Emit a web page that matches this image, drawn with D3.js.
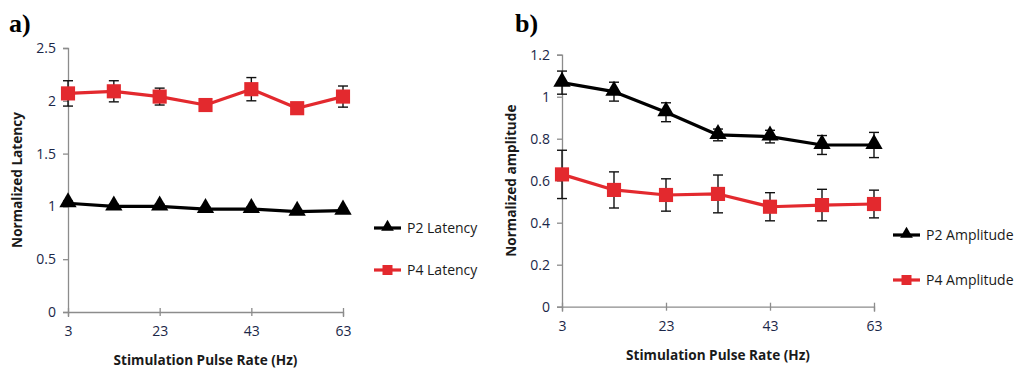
<!DOCTYPE html>
<html>
<head>
<meta charset="utf-8">
<script src="https://cdn.jsdelivr.net/npm/d3@7"></script>
<style>
  html, body { margin: 0; padding: 0; background: #fff; }
  svg { display: block; }
  .tick text { font-family: "Open Sans", "Liberation Sans", sans-serif; font-size: 14px; fill: #1b2748; }
  .axis-title { font-family: "Open Sans", "Liberation Sans", sans-serif; font-size: 13.6px; font-weight: bold; fill: #1a1a1a; }
  .legend text { font-family: "Open Sans", "Liberation Sans", sans-serif; font-size: 14px; fill: #1a1a1a; }
  .panel-label { font-family: "Liberation Serif", "DejaVu Serif", serif; font-size: 26px; font-weight: bold; fill: #000; }
</style>
</head>
<body>
<svg id="chart" width="1036" height="371"></svg>
<script>
// Stimulation pulse rates (Hz)
const rates = [3, 13, 23, 33, 43, 53, 63];
const xTicks = [3, 23, 43, 63];

// Panel a: normalized latency
const p2Latency    = [1.03, 1.00, 1.00, 0.975, 0.975, 0.95, 0.96];
const p2LatencyErr = [0.02, 0.02, 0.02, 0.02, 0.02, 0.02, 0.02];
const p4Latency    = [2.07, 2.09, 2.04, 1.96, 2.11, 1.93, 2.04];
const p4LatencyErr = [0.12, 0.10, 0.08, 0.03, 0.11, 0.03, 0.10];
const latencyTicks = [0, 0.5, 1, 1.5, 2, 2.5];

// Panel b: normalized amplitude
const p2Amplitude    = [1.067, 1.024, 0.926, 0.818, 0.81, 0.77, 0.77];
const p2AmplitudeErr = [0.055, 0.045, 0.045, 0.028, 0.03, 0.045, 0.06];
const p4Amplitude    = [0.63, 0.556, 0.532, 0.537, 0.476, 0.484, 0.489];
const p4AmplitudeErr = [0.115, 0.086, 0.077, 0.09, 0.067, 0.075, 0.066];
const amplitudeTicks = [0, 0.2, 0.4, 0.6, 0.8, 1, 1.2];

const svg = d3.select("#chart");
const RED = "#e3292e";
const BLACK = "#000";

function drawPanel(cfg) {
  const g = svg.append("g");
  const x = d3.scaleLinear().domain([3, 63]).range([cfg.left, cfg.right]);
  const y = d3.scaleLinear().domain(cfg.yDomain).range([cfg.bottom, cfg.top]);

  // axes
  const xAxis = d3.axisBottom(x).tickValues(xTicks).tickFormat(d3.format("d")).tickSize(5).tickPadding(9);
  const yAxis = d3.axisLeft(y).tickValues(cfg.yTicks).tickFormat(d => d3.format("")(d)).tickSize(5).tickPadding(7);

  const gx = g.append("g").attr("transform", `translate(0,${cfg.bottom})`).call(xAxis);
  const gy = g.append("g").attr("transform", `translate(${cfg.left},0)`).call(yAxis);
  [gx, gy].forEach(a => {
    a.select(".domain").attr("stroke", "#8c8c8c").attr("stroke-width", 1.3);
    a.selectAll(".tick line").attr("stroke", "#8c8c8c").attr("stroke-width", 1.3);
  });
  // x ticks cross the axis line
  gx.selectAll(".tick line").attr("y1", -4).attr("y2", 4);

  // axis titles
  g.append("text").attr("class", "axis-title")
    .attr("x", (cfg.left + cfg.right) / 2).attr("y", cfg.bottom + 53)
    .attr("text-anchor", "middle").text("Stimulation Pulse Rate (Hz)");
  g.append("text").attr("class", "axis-title")
    .attr("transform", `translate(${cfg.yTitleX},${(cfg.top + cfg.bottom) / 2}) rotate(-90)`)
    .attr("text-anchor", "middle").text(cfg.yTitle);

  // series
  cfg.series.forEach(s => {
    const pts = rates.map((r, i) => ({ r, v: s.values[i], e: s.errors[i] }));
    const line = d3.line().x(d => x(d.r)).y(d => y(d.v));
    g.append("path").datum(pts)
      .attr("fill", "none").attr("stroke", s.color).attr("stroke-width", 3.2)
      .attr("stroke-linejoin", "round").attr("d", line);

    // error bars
    const eb = g.append("g");
    pts.forEach(d => {
      const cx = x(d.r), yt = y(d.v + d.e), yb = y(d.v - d.e);
      eb.append("line").attr("x1", cx).attr("x2", cx).attr("y1", yt).attr("y2", yb)
        .attr("stroke", "#111").attr("stroke-width", 1.4);
      [yt, yb].forEach(yy => eb.append("line")
        .attr("x1", cx - 5).attr("x2", cx + 5).attr("y1", yy).attr("y2", yy)
        .attr("stroke", "#111").attr("stroke-width", 1.4));
    });

    // markers
    const sym = d3.symbol().type(s.shape === "square" ? d3.symbolSquare : d3.symbolTriangle)
      .size(s.shape === "square" ? 200 : 130);
    g.append("g").selectAll("path").data(pts).join("path")
      .attr("transform", d => `translate(${x(d.r)},${y(d.v) + (s.shape === "square" ? 0 : -1)})`)
      .attr("d", sym).attr("fill", s.color);
  });

  // legend
  const lg = g.append("g").attr("class", "legend");
  cfg.series.forEach((s, i) => {
    const ly = cfg.legendY[i];
    lg.append("line").attr("x1", cfg.legendX).attr("x2", cfg.legendX + 27)
      .attr("y1", ly).attr("y2", ly).attr("stroke", s.color).attr("stroke-width", 3.2);
    const sym = d3.symbol().type(s.shape === "square" ? d3.symbolSquare : d3.symbolTriangle)
      .size(s.shape === "square" ? 100 : 70);
    lg.append("path").attr("transform", `translate(${cfg.legendX + 13.5},${ly - (s.shape === "square" ? 0 : 1)})`)
      .attr("d", sym).attr("fill", s.color);
    lg.append("text").attr("x", cfg.legendX + 33).attr("y", ly).attr("dy", "0.35em").text(s.name);
  });

  // panel label
  g.append("text").attr("class", "panel-label")
    .attr("x", cfg.labelX).attr("y", 32).text(cfg.label);
}

drawPanel({
  label: "a)", labelX: 9,
  left: 68, right: 343, top: 48, bottom: 312,
  yDomain: [0, 2.5], yTicks: latencyTicks,
  yTitle: "Normalized Latency", yTitleX: 22,
  legendX: 374, legendY: [228, 270],
  series: [
    { name: "P2 Latency", values: p2Latency, errors: p2LatencyErr, color: BLACK, shape: "triangle" },
    { name: "P4 Latency", values: p4Latency, errors: p4LatencyErr, color: RED, shape: "square" }
  ]
});

drawPanel({
  label: "b)", labelX: 515,
  left: 562, right: 874, top: 54.7, bottom: 306.7,
  yDomain: [0, 1.2], yTicks: amplitudeTicks,
  yTitle: "Normalized amplitude", yTitleX: 516,
  legendX: 893, legendY: [235, 280],
  series: [
    { name: "P2 Amplitude", values: p2Amplitude, errors: p2AmplitudeErr, color: BLACK, shape: "triangle" },
    { name: "P4 Amplitude", values: p4Amplitude, errors: p4AmplitudeErr, color: RED, shape: "square" }
  ]
});
</script>
</body>
</html>
